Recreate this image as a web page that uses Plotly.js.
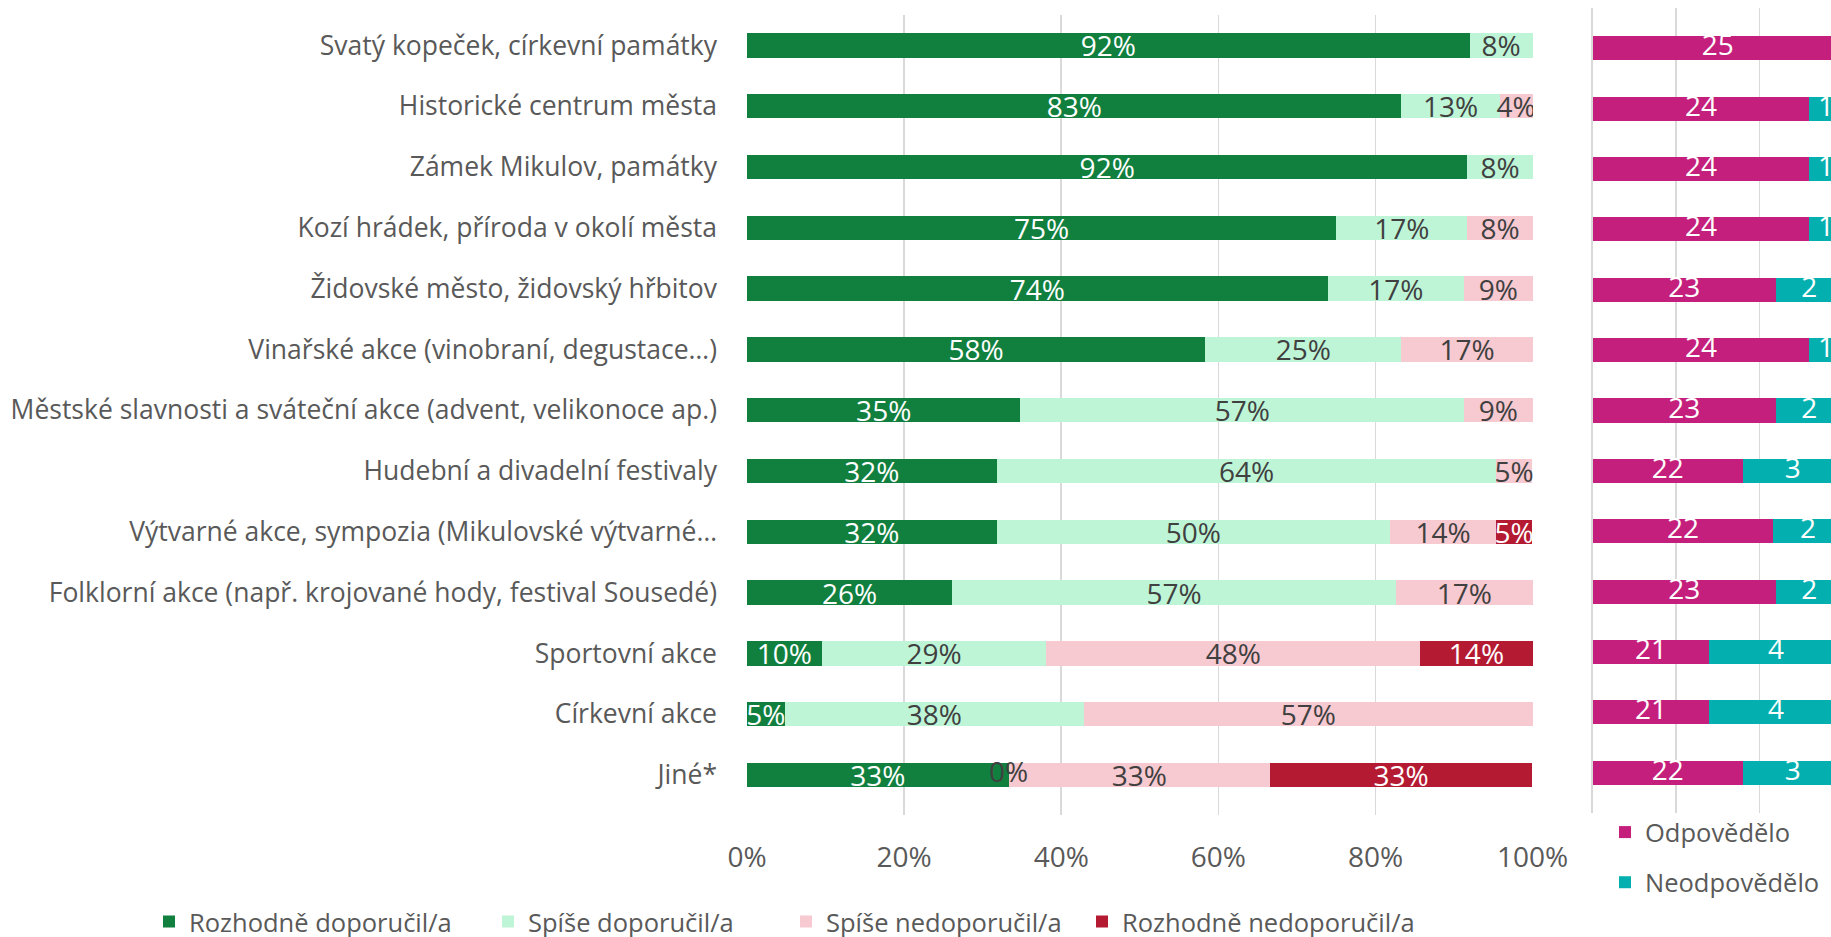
<!DOCTYPE html>
<html><head><meta charset="utf-8">
<script src="https://cdn.plot.ly/plotly-3.0.1.min.js"></script>
<style>html,body{margin:0;padding:0;background:#fff;} #chart{width:1831px;height:937px;}</style>
</head><body><div id="chart"></div>
<script>
// ---------- DATA ----------
const categories = [
  "Svatý kopeček, církevní památky",
  "Historické centrum města",
  "Zámek Mikulov, památky",
  "Kozí hrádek, příroda v okolí města",
  "Židovské město, židovský hřbitov",
  "Vinařské akce (vinobraní, degustace…)",
  "Městské slavnosti a sváteční akce (advent, velikonoce ap.)",
  "Hudební a divadelní festivaly",
  "Výtvarné akce, sympozia (Mikulovské výtvarné…",
  "Folklorní akce (např. krojované hody, festival Sousedé)",
  "Sportovní akce",
  "Církevní akce",
  "Jiné*"
];
const seriesNames = ["Rozhodně doporučil/a", "Spíše doporučil/a", "Spíše nedoporučil/a", "Rozhodně nedoporučil/a"];
const rozhodneDoporucil   = [92.0, 83.3, 91.7, 75.0, 73.9, 58.3, 34.8, 31.8, 31.8, 26.1, 9.5, 4.8, 33.3];
const spiseDoporucil      = [8.0, 12.5, 8.3, 16.7, 17.4, 25.0, 56.5, 63.6, 50.0, 56.5, 28.6, 38.1, 0];
const spiseNedoporucil    = [null, 4.2, null, 8.3, 8.7, 16.7, 8.7, 4.5, 13.6, 17.4, 47.6, 57.1, 33.3];
const rozhodneNedoporucil = [null, null, null, null, null, null, null, null, 4.5, null, 14.3, null, 33.3];

const responseNames = ["Odpovědělo", "Neodpovědělo"];
const odpovedelo   = [25, 24, 24, 24, 23, 24, 23, 22, 22, 23, 21, 21, 22];
const neodpovedelo = [0, 1, 1, 1, 2, 1, 2, 3, 2, 2, 4, 4, 3];

const xTickVals = [0, 20, 40, 60, 80, 100];

// ---------- STYLE ----------
const FONT = "Open Sans";
const leftColors = ["#11803F", "#BFF5D7", "#F7C9D0", "#B51A33"];
const leftTextColors = ["#FFFFFF", "#404040", "#404040", "#FFFFFF"];
const rightColors = ["#C51F7D", "#04AFAF"];
const LABEL_SIZE = 28;
const CAT_SIZE = 26.5;
const LEGEND_SIZE = 25.5;
const X2_RANGE = [0.7, 0.986];
const W = 1831, H = 937;
const leftLegendIds = ['legend', 'legend3', 'legend4', 'legend5'];
const leftLegendX = [149, 488, 786, 1082];

const leftSeries = [rozhodneDoporucil, spiseDoporucil, spiseNedoporucil, rozhodneNedoporucil];
const traces = [];

leftSeries.forEach((vals, k) => {
  traces.push({
    type: 'bar', orientation: 'h', name: seriesNames[k],
    y: categories, x: vals,
    text: vals.map(v => (v === null || v === 0) ? '' : Math.round(v) + '%'),
    textposition: 'inside', insidetextanchor: 'middle', constraintext: 'none',
    textfont: {family: FONT, size: LABEL_SIZE, color: leftTextColors[k]},
    marker: {color: leftColors[k], line: {width: 0}},
    xaxis: 'x', yaxis: 'y', legend: leftLegendIds[k], hoverinfo: 'none'
  });
});

// labels for zero-valued segments (drawn at the segment boundary)
const zx = [], zy = [], zt = [];
categories.forEach((c, i) => {
  let cum = 0;
  leftSeries.forEach(vals => {
    const v = vals[i];
    if (v === 0) { zx.push(cum); zy.push(c); zt.push(Math.round(v) + '%'); }
    if (v !== null) cum += v;
  });
});
traces.push({
  type: 'scatter', mode: 'text', x: zx, y: zy, text: zt, textposition: 'middle center',
  textfont: {family: FONT, size: LABEL_SIZE, color: '#404040'},
  xaxis: 'x', yaxis: 'y', showlegend: false, hoverinfo: 'none', cliponaxis: false
});

// right panel: 100% stacked
const totals = odpovedelo.map((v, i) => v + neodpovedelo[i]);
const fracOdp = odpovedelo.map((v, i) => v / totals[i]);
const fracNeodp = neodpovedelo.map((v, i) => v / totals[i]);
[fracOdp, fracNeodp].forEach((vals, k) => {
  traces.push({
    type: 'bar', orientation: 'h', name: responseNames[k],
    y: categories, x: vals,
    marker: {color: rightColors[k], line: {width: 0}},
    xaxis: 'x2', yaxis: 'y2', legend: 'legend2', legendgroup: 'g' + k, hoverinfo: 'none'
  });
});
// right panel labels, centered on the part of each segment inside the plot area (which ends at 100%)
traces.push({
  type: 'scatter', mode: 'text',
  x: fracOdp.map(f => (X2_RANGE[0] + f) / 2),
  y: categories, text: odpovedelo.map(String), textposition: 'middle center',
  textfont: {family: FONT, size: LABEL_SIZE, color: '#FFFFFF'},
  xaxis: 'x2', yaxis: 'y2', showlegend: false, hoverinfo: 'none', cliponaxis: false
});
const tnx = [], tny = [], tnt = [];
neodpovedelo.forEach((v, i) => {
  if (v > 0) { tnx.push(fracOdp[i] + fracNeodp[i] / 2); tny.push(categories[i]); tnt.push(String(v)); }
});
traces.push({
  type: 'scatter', mode: 'text', x: tnx, y: tny, text: tnt, textposition: 'middle center',
  textfont: {family: FONT, size: LABEL_SIZE, color: '#FFFFFF'},
  xaxis: 'x2', yaxis: 'y2', showlegend: false, hoverinfo: 'none', cliponaxis: false
});

const layout = {
  width: W, height: H,
  margin: {l: 0, r: 0, t: 0, b: 0, autoexpand: false},
  paper_bgcolor: '#FFFFFF', plot_bgcolor: '#FFFFFF',
  barmode: 'stack', bargap: 0.6,
  font: {family: FONT, size: LABEL_SIZE, color: '#595959'},
  showlegend: true,
  xaxis: {
    domain: [747 / W, 1533 / W], range: [0, 100.05],
    tickvals: xTickVals, ticktext: xTickVals.map(v => v + '%'),
    showgrid: true, gridcolor: '#D9D9D9', gridwidth: 1.5,
    zeroline: false, showline: false, ticks: '', ticklabelstandoff: 23,
    tickfont: {family: FONT, size: LABEL_SIZE, color: '#595959'},
    anchor: 'y', fixedrange: true
  },
  yaxis: {
    domain: [122 / H, 922 / H], type: 'category', autorange: 'reversed',
    ticks: '', ticklabelstandoff: 29, showgrid: false, zeroline: false, showline: false,
    tickfont: {family: FONT, size: CAT_SIZE, color: '#595959'},
    anchor: 'x', fixedrange: true
  },
  xaxis2: {
    domain: [1592.7 / W, 1], range: X2_RANGE, tick0: 0, dtick: 0.1,
    showticklabels: false, showgrid: true, gridcolor: '#D9D9D9', gridwidth: 1.5,
    showline: false, zeroline: false, ticks: '',
    anchor: 'y2', fixedrange: true
  },
  yaxis2: {
    domain: [124 / H, 929 / H], type: 'category', autorange: 'reversed',
    showticklabels: false, showgrid: false, zeroline: false,
    showline: true, linecolor: '#D9D9D9', linewidth: 2, ticks: '',
    anchor: 'x2', fixedrange: true
  },
  legend2: {
    orientation: 'v', x: 1605 / W, xanchor: 'left', y: 128 / H, yanchor: 'top',
    font: {family: FONT, size: LEGEND_SIZE, color: '#595959'}, traceorder: 'grouped', tracegroupgap: 14,
    bgcolor: 'rgba(0,0,0,0)'
  }
};
leftLegendIds.forEach((id, k) => {
  layout[id] = {
    orientation: 'h', x: leftLegendX[k] / W, xanchor: 'left', y: 15 / H, yanchor: 'middle',
    font: {family: FONT, size: LEGEND_SIZE, color: '#595959'},
    bgcolor: 'rgba(0,0,0,0)'
  };
});

Plotly.newPlot('chart', traces, layout, {staticPlot: true, displayModeBar: false});
</script>
</body></html>
